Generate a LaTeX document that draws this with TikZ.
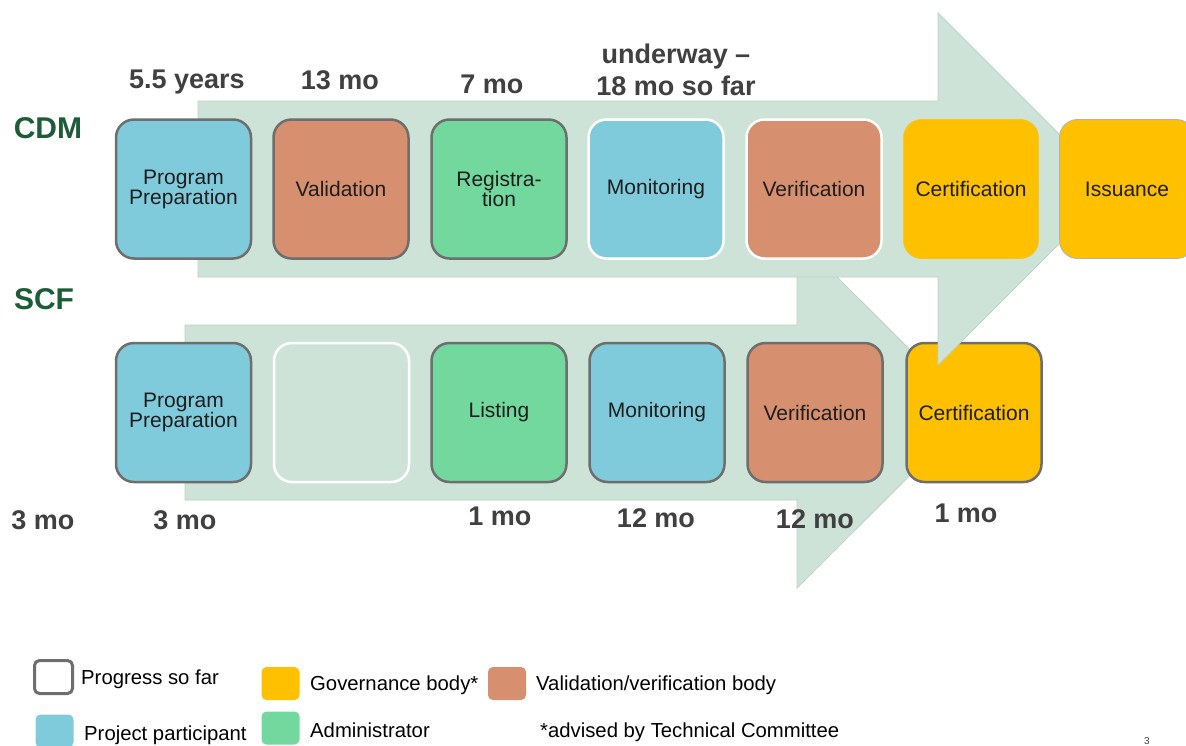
\documentclass[tikz,border=0pt]{standalone}
\usepackage{fontspec}
\setmainfont{Liberation Sans}
\definecolor{arrowfill}{RGB}{205,227,215}
\definecolor{arrowedge}{RGB}{190,210,200}
\definecolor{pblue}{RGB}{128,203,219}
\definecolor{vorange}{RGB}{214,143,111}
\definecolor{agreen}{RGB}{114,216,158}
\definecolor{gyellow}{RGB}{255,192,0}
\definecolor{boxgray}{RGB}{110,110,110}
\definecolor{textdark}{RGB}{30,30,30}
\definecolor{labelgray}{RGB}{64,64,64}
\definecolor{titlegreen}{RGB}{30,92,56}
\begin{document}
\begin{tikzpicture}[x=1pt,y=-1pt,
  stage/.style={rounded corners=18pt, minimum width=135pt, minimum height=139pt,
    line width=2.5pt, draw=boxgray, font=\fontsize{21}{20}\selectfont,
    text=textdark, align=center, inner sep=0pt},
  wstage/.style={stage, draw=white},
  lbl/.style={font=\bfseries\fontsize{27}{32}\selectfont, text=labelgray, align=center, inner sep=0pt},
  ttl/.style={font=\bfseries\fontsize{30}{30}\selectfont, text=titlegreen, inner sep=0pt},
  bigarrow/.style={fill=arrowfill, draw=arrowedge, line width=0.8pt, line join=miter},
  legbox/.style={rounded corners=5pt, minimum width=38pt, minimum height=33pt, inner sep=0pt},
  legtxt/.style={anchor=west, font=\fontsize{20.3}{20}\selectfont, text=black, inner sep=0pt}
]
\useasboundingbox (0,0) rectangle (1186,745);
\clip (0,0) rectangle (1186,745);
\fill[white] (0,0) rectangle (1186,745);

% SCF arrow
\path[bigarrow] (185,325) -- (797,325) -- (797,237) -- (973,412.5) -- (797,588) -- (797,500) -- (185,500) -- cycle;

% SCF boxes
\node[stage, fill=pblue] (s1) at (183.5,412.5) {Program\\Preparation};
\node[wstage, fill=arrowfill] (s2) at (341.5,412.5) {};
\node[stage, fill=agreen] (s3) at (499,412.5) {Listing};
\node[stage, fill=pblue] (s4) at (657,412.5) {Monitoring};
\node[stage, fill=vorange] (s5) at (815,412.5) {Verification};
\node[stage, fill=gyellow] (s6) at (974,412.5) {Certification};

% CDM arrow
\path[bigarrow] (198,101) -- (938,101) -- (938,13) -- (1114,189) -- (938,365) -- (938,277) -- (198,277) -- cycle;

% CDM boxes
\node[stage, fill=pblue] (c1) at (183.5,189) {Program\\Preparation};
\node[stage, fill=vorange] (c2) at (341,189) {Validation};
\node[stage, fill=agreen] (c3) at (499,189) {Registra-\\tion};
\node[wstage, fill=pblue] (c4) at (656,189) {Monitoring};
\node[wstage, fill=vorange] (c5) at (814,189) {Verification};
\node[stage, draw=gyellow, line width=0.5pt, fill=gyellow] (c6) at (971,189) {Certification};
\node[stage, draw=gray!60, line width=0.8pt, fill=gyellow] (c7) at (1127,189) {Issuance};

% titles
\node[ttl] (tcdm) at (48,128) {CDM};
\node[ttl] (tscf) at (44,299) {SCF};

% top labels
\node[lbl] (l1) at (187,82) {5.5 years};
\node[lbl] (l2) at (340,80) {13 mo};
\node[lbl] (l3) at (492,84) {7 mo};
\node[lbl] (l4) at (676,70) {underway –\\18 mo so far};

% bottom labels
\node[lbl] (b0) at (43,520) {3 mo};
\node[lbl] (b1) at (185,520) {3 mo};
\node[lbl] (b3) at (500,516) {1 mo};
\node[lbl] (b4) at (656,518) {12 mo};
\node[lbl] (b5) at (815,519) {12 mo};
\node[lbl] (b6) at (966,513) {1 mo};

% legend
\node[legbox, draw=boxgray, line width=3pt, fill=white] (lg1) at (53.5,677) {};
\node[legtxt] (lt1) at (81,679) {Progress so far};
\node[legbox, fill=gyellow] (lg2) at (280.5,683.5) {};
\node[legtxt] (lt2) at (310,685) {Governance body*};
\node[legbox, fill=vorange] (lg3) at (507,683.5) {};
\node[legtxt] (lt3) at (536,685) {Validation/verification body};
\node[legbox, fill=pblue] (lg4) at (54.5,731) {};
\node[legtxt] (lt4) at (84,735) {Project participant};
\node[legbox, fill=agreen] (lg5) at (280.5,728) {};
\node[legtxt] (lt5) at (310,730) {Administrator};
\node[legtxt] (lt6) at (540,732) {*advised by Technical Committee};
\node[font=\fontsize{10}{10}\selectfont, text=labelgray] (pg) at (1147,741) {3};
\end{tikzpicture}
\end{document}
